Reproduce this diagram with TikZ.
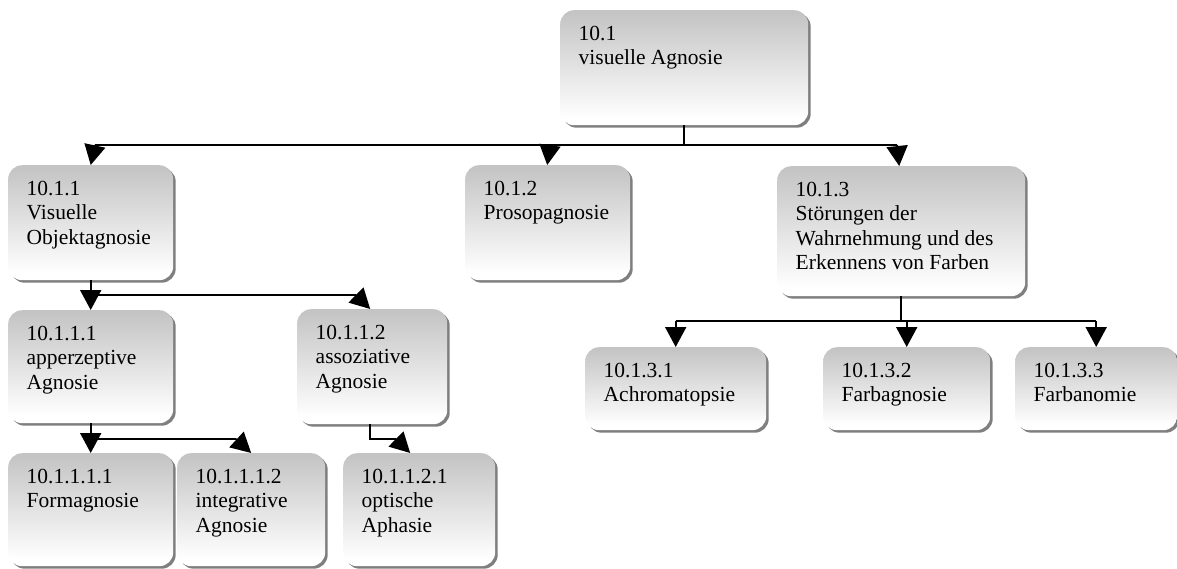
\documentclass[tikz,border=0pt]{standalone}
\usepackage{fontspec}
\setmainfont{Liberation Serif}
\usetikzlibrary{arrows.meta,shadows}

\definecolor{boxtop}{RGB}{196,196,196}
% grey at the top fading to white towards the bottom
\pgfdeclareverticalshading{orgshade}{100bp}{color(0bp)=(white); color(28bp)=(white);
  color(74bp)=(boxtop); color(100bp)=(boxtop)}

\tikzset{
  obox/.style={rounded corners=14pt, inner sep=0pt, shading=orgshade,
    drop shadow={shadow xshift=2.5pt, shadow yshift=-2.5pt, fill=black, opacity=0.5}},
  otext/.style={inner sep=0pt, font=\fontsize{21.5}{24.5}\selectfont},
  link/.style={line width=1.9pt, black},
  arr/.style={link, -{Triangle[width=21pt,length=20pt]}}
}

% name, left, top, width, height, lines
\newcommand\orgbox[6]{%
  \node[obox, minimum width=#4pt, minimum height=#5pt, anchor=north west] (#1) at (#2,#3) {};
  \node[otext, anchor=base west] (#1t) at ([xshift=18.5pt,yshift=-30pt]#1.north west)
    {\begin{tabular}[t]{@{}l@{}}#6\end{tabular}};
}

\begin{document}
\begin{tikzpicture}[x=1pt,y=-1pt]
\useasboundingbox (0,0) rectangle (1177,568);

% boxes
\orgbox{A}{560}{10}{248}{115}{10.1\\visuelle Agnosie}
\orgbox{B1}{8}{165}{165}{115}{10.1.1\\Visuelle\\Objektagnosie}
\orgbox{B2}{465}{165}{165}{115}{10.1.2\\Prosopagnosie}
\orgbox{B3}{777}{166}{248}{130}{10.1.3\\Störungen der\\Wahrnehmung und des\\Erkennens von Farben}
\orgbox{C1}{8}{310}{165}{113}{10.1.1.1\\apperzeptive\\Agnosie}
\orgbox{C2}{297}{309}{150}{115}{10.1.1.2\\assoziative\\Agnosie}
\orgbox{D1}{8}{453}{165}{113}{10.1.1.1.1\\Formagnosie}
\orgbox{D2}{177}{453}{148}{113}{10.1.1.1.2\\integrative\\Agnosie}
\orgbox{D3}{343}{453}{152}{113}{10.1.1.2.1\\optische\\Aphasie}
\orgbox{E1}{585}{347}{181}{83}{10.1.3.1\\Achromatopsie}
\orgbox{E2}{823}{347}{167}{83}{10.1.3.2\\Farbagnosie}
\orgbox{E3}{1015}{347}{162}{83}{10.1.3.3\\Farbanomie}

% level 1
\coordinate (a1) at (95,145);
\coordinate (a2) at (550,145);
\coordinate (a3) at (897,145);
\draw[link] (A.south) -- (A.south |- a1);
\draw[link] (a1) -- (a3);
\draw[arr] (a1) -- (B1.north);
\draw[arr] (a2) -- ([xshift=-0.5pt]B2.north);
\draw[arr] (a3) -- ([xshift=-2pt]B3.north);

% under 10.1.1
\coordinate (b2) at (356,295);
\draw[arr] (B1.south) -- (C1.north);
\draw[link] (B1.south |- b2) -- (b2);
\draw[arr] (b2) -- ([xshift=-2pt]C2.north);

% under 10.1.1.1
\coordinate (c2) at (236,439);
\draw[arr] (C1.south) -- (D1.north);
\draw[link] (C1.south |- c2) -- (c2);
\draw[arr] (c2) -- (D2.north);

% under 10.1.1.2
\coordinate (d1) at (396,439);
\draw[link] ([xshift=-2pt]C2.south) |- (d1);
\draw[arr] (d1) -- ([xshift=-9pt]D3.north);

% under 10.1.3
\coordinate (e) at (B3.south |- 0,321);
\draw[link] (B3.south) -- (e);
\draw[link] (E1.north |- e) -- (E3.north |- e);
\draw[arr] (E1.north |- e) -- (E1.north);
\draw[arr] (E2.north |- e) -- (E2.north);
\draw[arr] (E3.north |- e) -- (E3.north);
\end{tikzpicture}
\end{document}
